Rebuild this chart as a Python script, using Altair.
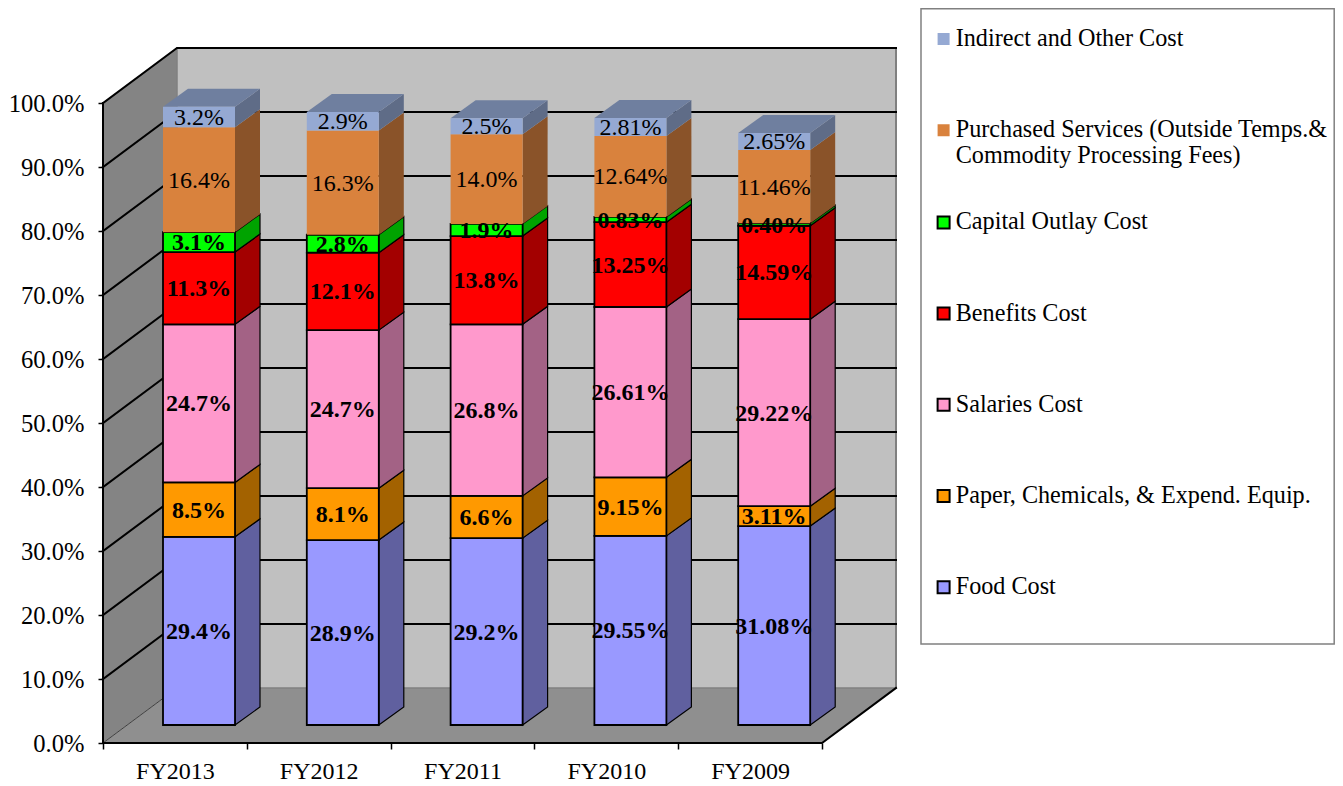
import altair as alt
import pandas as pd

years = ["FY2013", "FY2012", "FY2011", "FY2010", "FY2009"]
food = ["29.4", "28.9", "29.2", "29.55", "31.08"]
paper = ["8.5", "8.1", "6.6", "9.15", "3.11"]
salaries = ["24.7", "24.7", "26.8", "26.61", "29.22"]
benefits = ["11.3", "12.1", "13.8", "13.25", "14.59"]
capital = ["3.1", "2.8", "1.9", "0.83", "0.40"]
purchased = ["16.4", "16.3", "14.0", "12.64", "11.46"]
indirect = ["3.2", "2.9", "2.5", "2.81", "2.65"]

series_names = [
    "Food Cost",
    "Paper, Chemicals, & Expend. Equip.",
    "Salaries Cost",
    "Benefits Cost",
    "Capital Outlay Cost",
    "Purchased Services (Outside Temps.& Commodity Processing Fees)",
    "Indirect and Other Cost",
]
series_values = [food, paper, salaries, benefits, capital, purchased, indirect]
front_colors = ["#9999FF", "#FF9900", "#FF99CC", "#FF0000", "#00FF00", "#D9823D", "#95A9D3"]
side_colors = ["#60609F", "#A36200", "#A36285", "#A30000", "#00A300", "#8A5329", "#5F6C87"]
edge_colors = ["#000000"] * 5 + ["transparent", "transparent"]
bold_flags = [True, True, True, True, True, False, False]
top_color = "#6F7F9F"

FONT = "Liberation Serif"
PX_X = 143.8   # px per category
PX_Y = 6.4     # px per percent
VIEW_W = 1232
VIEW_H = 735
WALL_X = 74 / PX_X
WALL_Y = 55 / PX_Y
BAR_X = 25 / PX_X
BAR_Y = 18 / PX_Y
BAR_LEFT = 60 / PX_X
BAR_W = 72 / PX_X
N = len(years)

# ---- bars
fronts, sides, tops, labels = [], [], [], []
for i, yr in enumerate(years):
    lo = BAR_Y
    x0 = i + BAR_LEFT
    x1 = x0 + BAR_W
    for s, name in enumerate(series_names):
        txt = series_values[s][i]
        hi = lo + float(txt)
        fronts.append(dict(x=x0, x2=x1, y=lo, y2=hi, series=name))
        labels.append(dict(x=(x0 + x1) / 2, y=(lo + hi) / 2, t=txt + "%", bold=bold_flags[s]))
        key = f"{i}-{s}"
        sides.append(dict(id=key, x=x1, y=lo, y2=hi, fill=side_colors[s], edge=edge_colors[s]))
        sides.append(dict(id=key, x=x1 + BAR_X, y=lo + BAR_Y, y2=hi + BAR_Y, fill=side_colors[s], edge=edge_colors[s]))
        lo = hi
    tops.append(dict(id=i, y=lo, x=x0, x2=x1))
    tops.append(dict(id=i, y=lo + BAR_Y, x=x0 + BAR_X, x2=x1 + BAR_X))

# ---- frame lines
lines = []
def add_line(key, pts, color, width):
    for o, (px, py) in enumerate(pts):
        lines.append(dict(id=key, o=o, x=px, y=py, c=color, w=width))

add_line("edge-floor-left", [(0, 0), (WALL_X, WALL_Y)], "#404040", 1)
add_line("edge-back-left", [(WALL_X, WALL_Y), (WALL_X, 100 + WALL_Y)], "#808080", 1.5)
add_line("edge-back-bottom", [(WALL_X, WALL_Y), (N + WALL_X, WALL_Y)], "#808080", 1.5)
add_line("edge-back-right", [(N + WALL_X, WALL_Y), (N + WALL_X, 100 + WALL_Y)], "#808080", 2)
for v in range(10, 101, 10):
    add_line(f"grid-{v}", [(0, v), (WALL_X, v + WALL_Y), (N + WALL_X, v + WALL_Y)], "#000000", 2)
add_line("axis-left", [(0, 0), (0, 100)], "#000000", 2)
add_line("axis-bottom", [(0, 0), (N, 0), (N + WALL_X, WALL_Y)], "#000000", 2)

x_scale = alt.Scale(domain=[0, VIEW_W / PX_X], nice=False, zero=False)
y_scale = alt.Scale(domain=[0, VIEW_H / PX_Y], nice=False, zero=False)

year_js = "[" + ",".join(f"'{y}'" for y in years) + "]"
x_axis = alt.Axis(
    values=list(range(N + 1)), labelExpr=f"{year_js}[datum.value] || ''", labelOffset=PX_X / 2,
    domain=False, grid=False, tickSize=6, tickColor="#000000", tickWidth=1.5, labelPadding=10,
    labelFont=FONT, labelFontSize=24, labelColor="#000000", labelOverlap=False, labelFlush=False,
    labelBound=False, labelAngle=0, title=None,
)
y_axis = alt.Axis(
    values=list(range(0, 101, 10)), labelExpr="format(datum.value,'.1f')+'%'", labelOffset=1,
    domain=False, grid=False, tickSize=5, tickColor="#000000", tickWidth=1.5, labelPadding=14,
    labelFont=FONT, labelFontSize=24.6, labelColor="#000000", labelOverlap=False, labelBound=False,
    title=None,
)
X = alt.X("x:Q", scale=x_scale, axis=x_axis)
Y = alt.Y("y:Q", scale=y_scale, axis=y_axis)

# ---- room
back_wall = alt.Chart(pd.DataFrame([dict(x=WALL_X, x2=N + WALL_X, y=WALL_Y, y2=100 + WALL_Y)])).mark_rect(
    color="#C0C0C0").encode(X, alt.X2("x2:Q"), Y, alt.Y2("y2:Q"))
side_wall = alt.Chart(pd.DataFrame([dict(x=0, y=0, y2=100), dict(x=WALL_X, y=WALL_Y, y2=100 + WALL_Y)])).mark_area(
    color="#848484").encode(X, Y, alt.Y2("y2:Q"))
floor = alt.Chart(pd.DataFrame([dict(y=0, x=0, x2=N), dict(y=WALL_Y, x=WALL_X, x2=N + WALL_X)])).mark_area(
    color="#8F8F8F", orient="horizontal").encode(X, alt.X2("x2:Q"), Y)
frame = alt.Chart(pd.DataFrame(lines)).mark_line(strokeCap="square").encode(
    X, Y, alt.Detail("id:N"), alt.Order("o:Q"),
    alt.Stroke("c:N", scale=None), alt.StrokeWidth("w:Q", scale=None))

# ---- bars
side_faces = alt.Chart(pd.DataFrame(sides)).mark_area(strokeWidth=1.2).encode(
    X, Y, alt.Y2("y2:Q"), alt.Detail("id:N"),
    alt.Fill("fill:N", scale=None), alt.Stroke("edge:N", scale=None))
top_faces = alt.Chart(pd.DataFrame(tops)).mark_area(color=top_color, orient="horizontal").encode(
    X, alt.X2("x2:Q"), Y, alt.Detail("id:N"))

legend = alt.Legend(
    title=None, orient="none", legendX=828.5, legendY=-7, padding=0, symbolType="square",
    symbolSize=144, symbolStrokeWidth=2, labelFont=FONT, labelFontSize=24.2, labelColor="#000000",
    labelLimit=500, labelOffset=0, clipHeight=76, rowPadding=15.2, columns=1,
    labelExpr="indexof(datum.label,'Commodity')>=0 ? ['Purchased Services (Outside Temps.&', 'Commodity Processing Fees)'] : datum.label",
)
legend_order = list(reversed(series_names))
legend_fill = list(reversed(front_colors))
legend_edge = list(reversed(edge_colors))
bars = alt.Chart(pd.DataFrame(fronts)).mark_rect(strokeWidth=1.8).encode(
    X, alt.X2("x2:Q"), Y, alt.Y2("y2:Q"),
    alt.Fill("series:N", scale=alt.Scale(domain=legend_order, range=legend_fill), legend=legend),
    alt.Stroke("series:N", scale=alt.Scale(domain=legend_order, range=legend_edge), legend=legend),
)

label_df = pd.DataFrame(labels)
text_bold = alt.Chart(label_df[label_df.bold]).mark_text(
    font=FONT, fontSize=24, fontWeight="bold", color="#000000", baseline="middle", dy=1).encode(X, Y, alt.Text("t:N"))
text_plain = alt.Chart(label_df[~label_df.bold]).mark_text(
    font=FONT, fontSize=24, color="#000000", baseline="middle", dy=1).encode(X, Y, alt.Text("t:N"))

# ---- legend frame
box = alt.Chart(pd.DataFrame([dict(
    x=(921 - 103) / PX_X, x2=(1334.2 - 103) / PX_X, y=(743 - 644) / PX_Y, y2=(743 - 8.7) / PX_Y)])).mark_rect(
    fill="#FFFFFF", stroke="#808080", strokeWidth=1.5).encode(X, alt.X2("x2:Q"), Y, alt.Y2("y2:Q"))

chart = alt.layer(
    back_wall, side_wall, floor, frame, side_faces, top_faces, bars, text_bold, text_plain, box
).resolve_scale(fill="independent", stroke="independent").properties(
    width=VIEW_W, height=VIEW_H, padding={"left": 0, "top": -7, "right": 0, "bottom": 0}, background="#FFFFFF"
).configure_view(stroke=None)

chart.save("out.html", embed_options={"renderer": "svg", "actions": False})
